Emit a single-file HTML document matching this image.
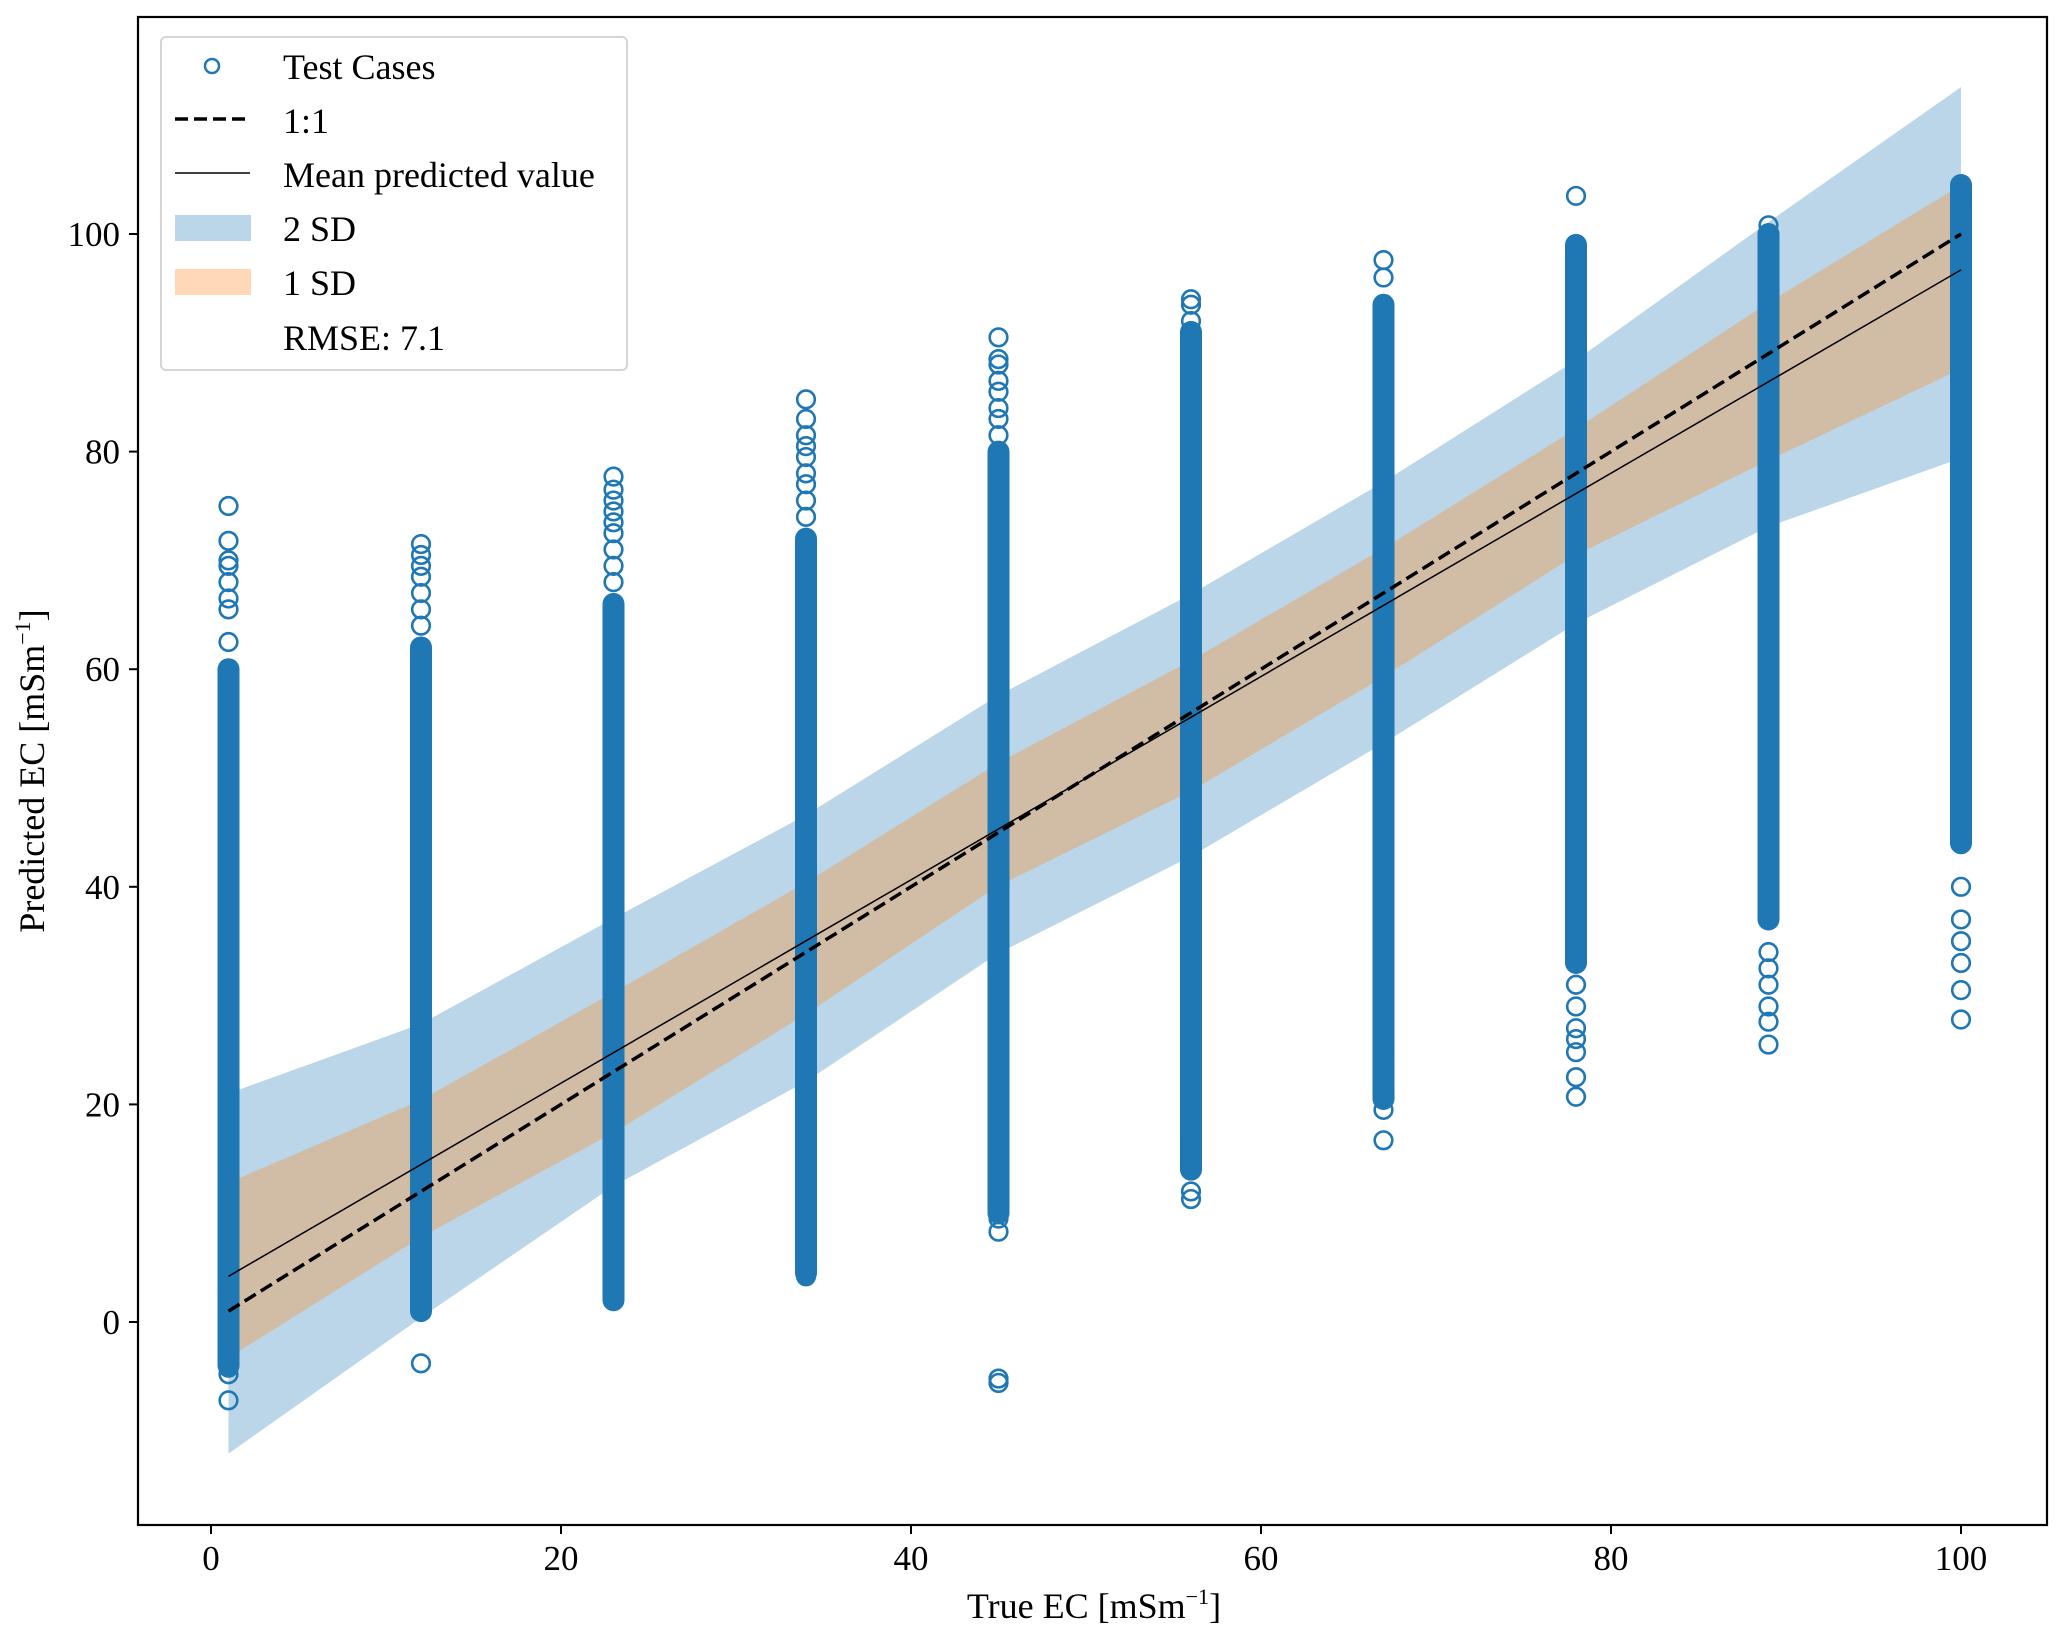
<!DOCTYPE html>
<html><head><meta charset="utf-8"><style>
html,body{margin:0;padding:0;background:#fff}
svg{display:block}
text{font-family:"Liberation Serif",serif;fill:#000}
</style></head><body>
<svg id="chart" width="2067" height="1642" viewBox="0 0 2067 1642" xmlns="http://www.w3.org/2000/svg">
<g id="bands"></g>
<g id="pts"></g>
<g id="lines"></g>
<rect x="138" y="17" width="1909" height="1508" fill="none" stroke="#000" stroke-width="2.2"/>
<g id="axes"></g>
<text x="1094" y="1618" font-size="36" text-anchor="middle">True EC [mSm<tspan font-size="22" dy="-14">−1</tspan><tspan dy="14">]</tspan></text>
<text transform="translate(44,771) rotate(-90)" font-size="36" text-anchor="middle">Predicted EC [mSm<tspan font-size="22" dy="-14">−1</tspan><tspan dy="14">]</tspan></text>
<g>
<rect x="161" y="37" width="466" height="333" rx="5" fill="#fff" fill-opacity="0.8" stroke="#d5d5d5" stroke-width="2"/>
<circle cx="212" cy="66" r="7" fill="none" stroke="#1f77b4" stroke-width="2.5"/>
<text x="283" y="79" font-size="36">Test Cases</text>
<line x1="175" y1="119" x2="250" y2="119" stroke="#000" stroke-width="3.5" stroke-dasharray="13,6"/>
<text x="283" y="133" font-size="36">1:1</text>
<line x1="175" y1="173" x2="250" y2="173" stroke="#000" stroke-width="1.5"/>
<text x="283" y="187" font-size="36">Mean predicted value</text>
<rect x="175" y="215" width="76" height="26" fill="#bbd6e8"/>
<text x="283" y="241" font-size="36">2 SD</text>
<rect x="175" y="269" width="76" height="26" fill="#ffd8b8"/>
<text x="283" y="295" font-size="36">1 SD</text>
<text x="283" y="350" font-size="36">RMSE: 7.1</text>
</g>
</svg>
<script>
const NS='http://www.w3.org/2000/svg';
const xTicks=[0,20,40,60,80,100];
const yTicks=[0,20,40,60,80,100];
const columns=[1,12,23,34,45,56,67,78,89,100];
const denseLo=[-4,1,2,4.5,10,14,20.5,33,37,44];
const denseHi=[60,62,66,72,80,91,93.5,99,100,104.5];
const outliers=[
 [-7.2,-4.8,-4.2,62.5,65.5,66.5,68,69.5,70,71.8,75],
 [-3.8,64,65.5,67,68.5,69.5,70.5,71.5],
 [68,69.5,71,72.5,73.5,74.5,75.5,76.5,77.7],
 [4.2,6,74,75.5,77,78,79.5,80.5,81.5,83,84.8],
 [8.3,9.5,-5.2,-5.6,81.5,83,84,85.5,86.5,88,88.5,90.5],
 [11.3,12,14.6,16,92,93.5,94],
 [16.7,19.5,21,23,25,96,97.6],
 [20.7,22.5,24.8,26,27,29,31,103.5],
 [25.5,27.6,29,31,32.5,34,100.8],
 [27.8,30.5,33,35,37,40,103]
];
const sd2Upper=[21.0,27.4,37.1,46.6,57.6,66.9,77.2,88.4,101.1,113.5];
const sd1Upper=[12.8,20.4,30.3,40.4,51.4,60.8,71.1,82.1,93.7,104.5];
const sd1Lower=[-3.3,7.8,17.4,28.3,40.1,48.8,59.3,70.5,79.2,87.6];
const sd2Lower=[-12.1,0.4,12.5,22.1,33.9,42.8,53.2,64.2,73.1,79.4];
const meanY=[4.2,96.7];
const oneToOneY=[1,100];
const X=v=>211+v*17.5;
const Y=v=>1322-v*10.88;
const xFirst=columns[0], xLast=columns[columns.length-1];
function el(tag,attrs,parent){const e=document.createElementNS(NS,tag);for(const k in attrs)e.setAttribute(k,attrs[k]);parent.appendChild(e);return e;}
const bands=document.getElementById('bands');
function band(up,lo,fill,name){
 let p='M'+columns.map((c,i)=>X(c)+','+Y(up[i])).join(' L');
 p+=' L'+columns.slice().reverse().map((c,j)=>X(c)+','+Y(lo[columns.length-1-j])).join(' L')+' Z';
 const e=el('path',{d:p,fill:fill},bands);
 
 
}
band(sd2Upper,sd2Lower,'#bbd6e8','band-2sd');
band(sd1Upper,sd1Lower,'#d1bca6','band-1sd');
const pts=document.getElementById('pts');
columns.forEach((c,i)=>{
 const d=el('line',{x1:X(c),x2:X(c),y1:Y(denseLo[i]),y2:Y(denseHi[i]),stroke:'#1f77b4','stroke-width':22,'stroke-linecap':'round'},pts);
 
 
 outliers[i].forEach(v=>{
  const o=el('circle',{cx:X(c),cy:Y(v),r:8.8,fill:'none',stroke:'#1f77b4','stroke-width':2.6},pts);
  
  
 });
});
const lines=document.getElementById('lines');
const l1=el('line',{x1:X(xFirst),y1:Y(oneToOneY[0]),x2:X(xLast),y2:Y(oneToOneY[1]),stroke:'#000','stroke-width':3.5,'stroke-dasharray':'13,6'},lines);


const l2=el('line',{x1:X(xFirst),y1:Y(meanY[0]),x2:X(xLast),y2:Y(meanY[1]),stroke:'#000','stroke-width':1.5},lines);


const axes=document.getElementById('axes');
xTicks.forEach(t=>{
 const tk=el('line',{x1:X(t),x2:X(t),y1:1525,y2:1534,stroke:'#000','stroke-width':2},axes);
 
 
 const tx=el('text',{x:X(t),y:1570,'font-size':35,'text-anchor':'middle'},axes);
 tx.textContent=t;
 
 
});
yTicks.forEach(t=>{
 const tk=el('line',{x1:129,x2:138,y1:Y(t),y2:Y(t),stroke:'#000','stroke-width':2},axes);
 
 
 const tx=el('text',{x:120,y:Y(t)+12,'font-size':35,'text-anchor':'end'},axes);
 tx.textContent=t;
 
 
});
</script>
</body></html>
